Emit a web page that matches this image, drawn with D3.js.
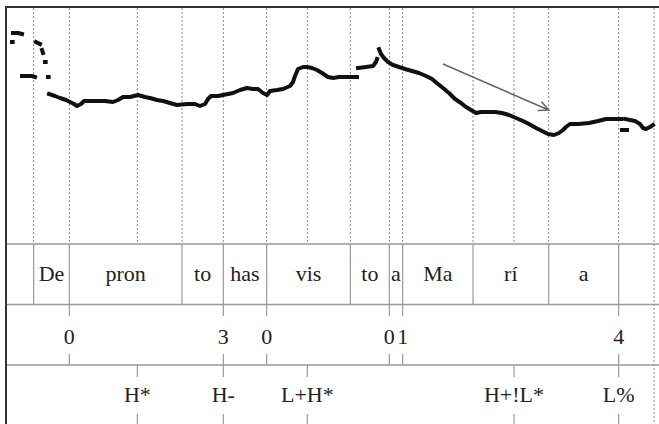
<!DOCTYPE html>
<html>
<head>
<meta charset="utf-8">
<script src="https://cdn.jsdelivr.net/npm/d3@7"></script>
<style>
  html, body { margin: 0; padding: 0; background: #fff; }
  svg { display: block; }
</style>
</head>
<body>
<svg id="chart" width="659" height="424"></svg>
<script>
// time in ms, pitch in Hz
const pitchSegments = [
  [[21,311],[36,311],[48,310]],
  [[18,302]],
  [[90,302],[102,300]],
  [[108,294],[111,291]],
  [[117,282]],
  [[48,268],[63,268],[78,268],[87,267]],
  [[126,267]],
  [[129,250],[147,248],[162,246],[180,244],[192,242],[204,240],[213,238],[225,240],[234,243],
   [252,243],[273,243],[297,243],[321,242],[336,244],[351,247],[372,247],[396,249],[417,247],
   [432,246],[453,244],[471,243],[492,241],[513,239],[543,240],[567,240],[582,238],[597,240],
   [606,245],[615,248],[636,248],[651,249],[681,251],[702,254],[723,256],[741,255],[756,255],
   [771,251],[783,249],[792,253],[813,254],[831,255],[852,258],[861,262],[867,268],[876,275],
   [891,277],[903,277],[918,276],[933,274],[948,271],[966,267],[981,266],[999,267],[1017,267],
   [1035,267],[1053,267]],
  [[1056,276],[1080,277],[1101,278],[1110,282],[1113,285]],
  [[1119,295],[1125,290],[1134,286],[1146,282],[1161,279],[1179,277],[1197,275],[1218,273],
   [1239,271],[1260,268],[1278,265],[1296,260],[1311,256],[1329,251],[1347,245],[1365,241],
   [1380,237],[1395,234],[1410,231],[1425,232],[1446,232],[1467,232],[1488,231],[1509,229],
   [1530,226],[1551,223],[1569,220],[1590,216],[1608,213],[1626,210],[1644,209],[1659,211],
   [1671,214],[1680,217],[1692,220],[1716,220],[1749,221],[1776,223],[1800,225],[1824,225],
   [1845,225]],
  [[1848,214],[1863,214]],
  [[1857,225],[1872,224],[1887,223],[1902,220],[1911,216],[1920,215],[1932,217],[1941,219]]
]

const wordBounds = [83, 190, 528, 652, 782, 1033, 1150, 1190, 1401, 1628, 1838]
const words = ["De", "pron", "to", "has", "vis", "to", "a", "Ma", "rí", "a"]

const breakTimes = [190, 652, 782, 1150, 1190, 1838]
const breakLabels = ["0", "3", "0", "0", "1", "4"]

const toneTimes = [394, 652, 904, 1524, 1838]
const toneLabels = ["H*", "H-", "L+H*", "H+!L*", "L%"]

const endTime = 1944

// downstep arrow: [time, Hz]
const arrowFrom = [1311, 280]
const arrowTo = [1628, 234]

const svg = d3.select("#chart")

const x = d3.scaleLinear().domain([0, 1950]).range([6, 656])
const y = d3.scaleLinear().domain([100, 337]).range([244, 7])

const tiers = { wordTop: 244, wordBot: 304.5, breakBot: 365 }

// pick the first serif face that is actually installed
function hasFont(name) {
  const ctx = document.createElement("canvas").getContext("2d")
  const probe = "mmmmwwwiiilH*0123"
  return ["monospace", "sans-serif"].some(base => {
    ctx.font = `40px ${base}`
    const w0 = ctx.measureText(probe).width
    ctx.font = `40px '${name}', ${base}`
    return ctx.measureText(probe).width !== w0
  })
}
const serifName = ["Liberation Serif", "DejaVu Serif", "Noto Serif", "Times New Roman", "Tinos"]
  .find(hasFont) || "serif"
const serif = `'${serifName}', serif`

function label(sel) {
  sel.attr("text-anchor", "middle")
    .attr("font-family", serif)
    .attr("font-size", 22)
    .attr("fill", "#222")
}

// dotted guide lines in the pitch panel
const guides = Array.from(new Set(wordBounds.concat(toneTimes))).sort((a, b) => a - b)

svg.append("g")
  .selectAll("line")
  .data(guides)
  .join("line")
    .attr("x1", d => x(d)).attr("x2", d => x(d))
    .attr("y1", 8).attr("y2", tiers.wordTop)
    .attr("stroke", "#8a8a8a")
    .attr("stroke-width", 1)
    .attr("stroke-dasharray", "2,2")

svg.append("line")
  .attr("x1", x(endTime)).attr("x2", x(endTime))
  .attr("y1", 8).attr("y2", 424)
  .attr("stroke", "#8a8a8a")
  .attr("stroke-width", 1)
  .attr("stroke-dasharray", "2,2")

// tier lines
svg.append("g")
  .selectAll("line")
  .data([tiers.wordTop, tiers.wordBot, tiers.breakBot])
  .join("line")
    .attr("x1", 6).attr("x2", 659)
    .attr("y1", d => d).attr("y2", d => d)
    .attr("stroke", "#999")
    .attr("stroke-width", 1.5)

// word boundaries
svg.append("g")
  .selectAll("line")
  .data(wordBounds)
  .join("line")
    .attr("x1", d => x(d)).attr("x2", d => x(d))
    .attr("y1", tiers.wordTop).attr("y2", tiers.wordBot)
    .attr("stroke", "#999")
    .attr("stroke-width", 1.2)

svg.append("g")
  .selectAll("text")
  .data(words)
  .join("text")
    .attr("x", (d, i) => (x(wordBounds[i]) + x(wordBounds[i + 1])) / 2)
    .attr("y", 281)
    .call(label)
    .text(d => d)

// break indices
const breakG = svg.append("g")
breakG.selectAll("line.top")
  .data(breakTimes)
  .join("line")
    .attr("class", "top")
    .attr("x1", d => x(d)).attr("x2", d => x(d))
    .attr("y1", tiers.wordBot).attr("y2", 316)
    .attr("stroke", "#999").attr("stroke-width", 1.2)
breakG.selectAll("line.bot")
  .data(breakTimes)
  .join("line")
    .attr("class", "bot")
    .attr("x1", d => x(d)).attr("x2", d => x(d))
    .attr("y1", 354).attr("y2", tiers.breakBot)
    .attr("stroke", "#999").attr("stroke-width", 1.2)
breakG.selectAll("text")
  .data(breakLabels)
  .join("text")
    .attr("x", (d, i) => x(breakTimes[i]))
    .attr("y", 344)
    .call(label)
    .text(d => d)

// tones
const toneG = svg.append("g")
toneG.selectAll("line.top")
  .data(toneTimes)
  .join("line")
    .attr("class", "top")
    .attr("x1", d => x(d)).attr("x2", d => x(d))
    .attr("y1", tiers.breakBot).attr("y2", 377)
    .attr("stroke", "#999").attr("stroke-width", 1.2)
toneG.selectAll("line.bot")
  .data(toneTimes)
  .join("line")
    .attr("class", "bot")
    .attr("x1", d => x(d)).attr("x2", d => x(d))
    .attr("y1", 414).attr("y2", 424)
    .attr("stroke", "#999").attr("stroke-width", 1.2)
toneG.selectAll("text")
  .data(toneLabels)
  .join("text")
    .attr("x", (d, i) => x(toneTimes[i]))
    .attr("y", 402)
    .call(label)
    .text(d => d)

// pitch track
const line = d3.line().x(d => x(d[0])).y(d => y(d[1]))

svg.append("g")
  .selectAll("path")
  .data(pitchSegments)
  .join("path")
    .attr("d", d => d.length > 1 ? line(d) : line([d[0], [d[0][0] + 2, d[0][1]]]))
    .attr("fill", "none")
    .attr("stroke", "#111")
    .attr("stroke-width", 4)
    .attr("stroke-linejoin", "round")
    .attr("stroke-linecap", "square")

// downstep arrow
const ax1 = x(arrowFrom[0]), ay1 = y(arrowFrom[1])
const ax2 = x(arrowTo[0]), ay2 = y(arrowTo[1])
const ang = Math.atan2(ay2 - ay1, ax2 - ax1)
const head = 11, spread = 0.45

svg.append("path")
  .attr("d", `M${ax1},${ay1}L${ax2},${ay2}` +
    `M${ax2 - head * Math.cos(ang - spread)},${ay2 - head * Math.sin(ang - spread)}L${ax2},${ay2}` +
    `L${ax2 - head * Math.cos(ang + spread)},${ay2 - head * Math.sin(ang + spread)}`)
  .attr("fill", "none")
  .attr("stroke", "#666")
  .attr("stroke-width", 1.6)

// frame
svg.append("line")
  .attr("x1", 6).attr("x2", 659).attr("y1", 7).attr("y2", 7)
  .attr("stroke", "#333").attr("stroke-width", 2)
svg.append("line")
  .attr("x1", 6).attr("x2", 6).attr("y1", 6).attr("y2", 424)
  .attr("stroke", "#333").attr("stroke-width", 2)
</script>
</body>
</html>
